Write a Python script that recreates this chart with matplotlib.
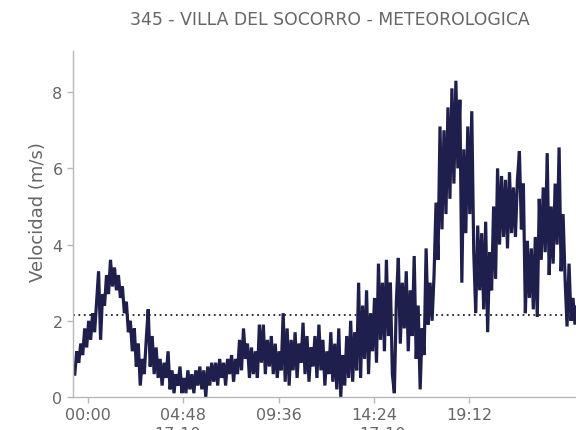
import matplotlib
matplotlib.use("Agg")
import matplotlib.pyplot as plt
from matplotlib.ticker import FixedLocator, FuncFormatter
import numpy as np

title = "345 - VILLA DEL SOCORRO - METEOROLOGICA"
ylabel = "Velocidad (m/s)"
start_minute = -40      # first sample (minutes from 00:00)
step_minutes = 6        # sampling interval
reference_level = 2.15  # dotted line
tick_minutes = [0, 288, 576, 864, 1152]
date_labels = ["17-10", "17-10"]
date_label_minutes = [270, 890]

speed = [
    0.6, 1.2, 0.9, 1.4, 1.1, 1.8, 1.3, 2.0, 1.5, 2.2,
    1.7, 2.5, 3.3, 1.5, 2.7, 2.4, 3.2, 2.7, 3.6, 2.9,
    3.4, 2.8, 3.2, 2.6, 2.9, 2.2, 2.5, 1.7, 2.0, 1.2,
    1.8, 0.8, 1.4, 0.3, 1.0, 0.6, 1.5, 2.3, 0.8, 1.6,
    0.6, 1.3, 0.5, 1.0, 0.3, 0.9, 0.5, 1.2, 0.2, 0.7,
    0.1, 0.6, 0.3, 0.8, 0.1, 0.5, 0.1, 0.7, 0.2, 0.6,
    0.1, 0.7, 0.3, 0.8, 0.2, 0.7, 0.0, 0.8, 0.3, 0.9,
    0.4, 0.9, 0.3, 1.0, 0.5, 0.9, 0.3, 1.0, 0.6, 1.1,
    0.4, 1.0, 0.6, 1.5, 0.7, 1.8, 1.0, 1.4, 0.5, 1.3,
    0.6, 1.2, 0.5, 1.9, 0.9, 1.9, 0.6, 1.5, 0.8, 1.6,
    0.6, 1.4, 0.5, 1.2, 0.7, 2.2, 0.4, 1.8, 0.3, 1.5,
    0.7, 1.7, 0.5, 1.4, 0.9, 1.95, 0.6, 1.6, 0.4, 1.3,
    0.8, 1.6, 0.5, 1.9, 0.7, 1.5, 0.3, 1.2, 0.6, 1.7,
    0.4, 1.4, 0.2, 1.8, 0.0, 1.1, 0.3, 1.6, 0.5, 2.0,
    0.4, 1.7, 0.7, 3.0, 0.5, 2.4, 1.0, 2.8, 0.6, 2.2,
    1.2, 2.6, 0.9, 3.5, 1.5, 3.0, 1.2, 3.6, 1.6, 3.0,
    0.6, 0.1, 2.5, 3.65, 1.4, 3.0, 1.8, 3.3, 1.2, 2.8,
    1.6, 3.7, 1.0, 2.4, 0.2, 1.8, 1.1, 3.9, 1.9, 3.0,
    2.0, 3.2, 5.1, 3.6, 7.1, 4.4, 7.0, 4.8, 7.6, 5.2,
    8.1, 5.6, 8.3, 6.0, 7.8, 3.0, 6.5, 4.3, 7.1, 4.8,
    7.5, 3.8, 2.2, 4.5, 2.8, 4.3, 2.3, 4.6, 1.7, 3.8,
    2.8, 5.0, 3.1, 6.0, 4.0, 5.8, 4.2, 5.7, 3.9, 5.9,
    4.3, 5.5, 4.2, 5.7, 6.45, 4.4, 5.6, 2.2, 4.1, 2.6,
    3.9, 2.3, 4.2, 2.1, 5.2, 3.6, 5.5, 3.8, 6.4, 3.2,
    5.0, 3.5, 5.6, 4.0, 6.55, 3.3, 4.8, 3.1, 1.85, 3.5,
    2.0, 2.6, 1.9, 2.4, 2.1, 2.3,
]

minutes = start_minute + step_minutes * np.arange(len(speed))

W, H = 576, 431
fig = plt.figure(figsize=(W / 100, H / 100), dpi=100)
fig.patch.set_facecolor("white")

px_per_min = 19.85 / 60
ax_left_px, ax_right_px = 73, 610
ax_bottom_px, ax_top_px = 398, 52
ax_w_px = ax_right_px - ax_left_px
ax_h_px = ax_bottom_px - ax_top_px
ax = fig.add_axes([ax_left_px / W, (H - ax_bottom_px) / H, ax_w_px / W, ax_h_px / H])

ax.plot(minutes, speed, color="#1f1f4d", lw=2.3, solid_joinstyle="miter")
ax.axhline(reference_level, color="#222222", lw=1.3, ls=(0, (1, 2)))

x_left = -15 / px_per_min
ax.set_xlim(x_left, x_left + ax_w_px / px_per_min)
ax.set_ylim(0, 9.08)

ax.xaxis.set_major_locator(FixedLocator(tick_minutes))
ax.xaxis.set_major_formatter(FuncFormatter(lambda v, p: f"{int(v)//60:02d}:{int(v)%60:02d}"))
ax.set_yticks([0, 2, 4, 6, 8])

for s in ["top", "right"]:
    ax.spines[s].set_visible(False)
for s in ["left", "bottom"]:
    ax.spines[s].set_color("#b8b8b8")
    ax.spines[s].set_linewidth(1.0)

ax.tick_params(colors="#b8b8b8", labelcolor="#666666", labelsize=11.5, length=4, width=1)
ax.set_ylabel(ylabel, color="#666666", fontsize=13)
ax.yaxis.set_label_coords((47 - ax_left_px) / ax_w_px, (ax_bottom_px - 212) / ax_h_px)

fig.text(330 / W, 1 - 20 / H, title, ha="center", va="center", color="#666666", fontsize=12.4)

for lab, m in zip(date_labels, date_label_minutes):
    xpx = 88 + m * px_per_min
    fig.text(xpx / W, 1 - 427.5 / H, lab, ha="center", va="top", color="#666666", fontsize=11.5)

fig.savefig("out.png", dpi=100, facecolor="white")
